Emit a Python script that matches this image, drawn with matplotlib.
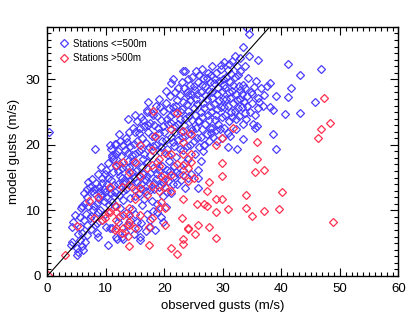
import numpy as np
import matplotlib
matplotlib.use("Agg")
import matplotlib.pyplot as plt
from matplotlib.ticker import MultipleLocator

plt.rcParams['font.family'] = ['Liberation Sans', 'DejaVu Sans']

# observed vs model gusts (m/s)
blue_pts = [
    # low end
    (4.0, 4.7), (4.2, 5.2), (5.0, 4.2), (5.3, 3.7), (5.1, 3.2), (5.9, 4.5), (5.5, 5.5), (6.1, 4.0), (6.4, 5.1),
    (4.2, 7.5), (4.4, 8.3), (4.7, 9.3), (5.5, 7.5), (5.6, 9.0), (6.7, 7.8), (6.0, 6.5), (5.8, 10.4), (6.4, 11.1),
    (7.0, 10.6), (5.9, 10.6), (7.9, 10.6), (8.4, 11.1), (8.7, 9.8), (9.3, 8.5), (8.1, 7.8), (8.4, 6.5), (8.7, 6.0),
    (7.5, 9.2), (9.0, 10.0), (9.6, 11.5), (10.1, 7.5), (10.4, 4.7), (11.0, 7.3), (11.9, 5.7), (12.7, 6.0),
    (13.3, 6.7), (13.6, 7.8), (14.1, 8.5), (15.3, 8.3), (15.5, 7.3), (15.8, 6.0), (15.8, 5.5), (17.5, 7.5),
    (18.4, 7.0), (17.5, 8.5), (10.1, 12.1), (11.0, 11.3), (11.6, 10.6), (13.0, 11.6), (10.7, 7.3), (11.8, 6.0),
    (13.0, 5.7), (12.2, 9.0), (14.5, 10.2), (15.0, 9.5), (16.2, 10.8), (17.0, 9.5), (18.0, 9.9), (19.5, 9.0),
    (19.8, 8.2), (18.8, 11.0), (20.3, 10.5), (16.6, 11.7), (14.2, 11.9), (12.0, 8.2), (9.8, 9.5), (8.5, 8.0),
    (7.3, 8.8), (6.6, 9.5), (6.8, 12.0),
    (5.2, 6.4), (6.8, 6.2), (7.4, 7.2), (6.2, 8.6), (7.8, 10.0), (8.8, 11.8), (10.6, 10.8), (12.4, 10.4),
    (13.4, 9.6), (11.4, 12.2), (9.8, 12.8), (16.0, 8.0), (16.8, 6.8), (14.8, 6.4), (18.8, 9.8),
    # 12-17
    (7.0, 14.4), (7.2, 13.6), (8.1, 19.4), (7.7, 14.8), (8.3, 14.2), (8.0, 12.6), (9.0, 13.0), (9.4, 14.2),
    (9.8, 15.6), (10.0, 16.2), (9.2, 12.4), (10.5, 13.4), (10.9, 14.6), (11.3, 15.8), (11.6, 12.8), (12.0, 14.0),
    (12.4, 15.2), (12.7, 16.4), (12.2, 17.1), (13.0, 13.0), (13.3, 14.5), (13.7, 15.4), (14.0, 16.6), (14.5, 13.6),
    (14.8, 15.0), (15.2, 16.0), (15.6, 12.6), (16.0, 14.0), (16.4, 15.5), (16.8, 12.9), (17.3, 14.2), (17.6, 15.7),
    (18.2, 13.3), (18.6, 14.8), (19.0, 16.2), (19.5, 13.8), (20.0, 15.4), (20.6, 14.5), (21.0, 16.0), (21.5, 14.0),
    (22.1, 14.0), (21.1, 12.6), (22.5, 15.6), (23.2, 16.2), (24.0, 15.0), (25.7, 16.2), (25.7, 14.9), (25.7, 13.4),
    (19.8, 12.2), (17.8, 11.5), (11.8, 16.8), (10.4, 15.0), (8.6, 15.6), (9.1, 16.6), (10.3, 17.2), (11.0, 18.2),
    (8.8, 13.6), (9.6, 13.2), (10.2, 14.0), (10.8, 12.6), (11.4, 13.8), (12.2, 12.4), (12.9, 14.2), (13.5, 13.2),
    (14.2, 14.6), (14.9, 12.2), (15.4, 14.4), (16.1, 13.2), (16.8, 14.6), (17.5, 13.1), (18.3, 14.2), (19.0, 13.5),
    (19.8, 14.4), (20.5, 12.8), (21.7, 15.2), (22.8, 14.6), (23.5, 13.4), (24.6, 15.6), (12.0, 16.0), (12.8, 15.0),
    (13.4, 16.6), (14.4, 15.8), (15.6, 15.4), (16.2, 16.6), (17.0, 15.2), (18.0, 16.4), (18.8, 15.6), (19.6, 16.8),
    (20.4, 16.2), (21.6, 16.8), (22.0, 15.8), (8.2, 13.2), (9.4, 15.0), (7.6, 13.0), (6.2, 12.6), (6.8, 13.2),
    # 17-22
    (10.8, 19.3), (11.5, 20.2), (12.0, 19.0), (12.6, 18.3), (13.0, 20.0), (13.5, 21.0), (13.8, 18.8), (14.2, 19.8),
    (14.6, 17.6), (15.0, 18.6), (15.3, 20.6), (15.7, 21.8), (16.0, 19.4), (16.4, 17.8), (16.8, 20.3), (17.2, 22.0),
    (17.5, 18.5), (18.0, 19.8), (18.4, 21.2), (18.8, 17.4), (19.2, 18.9), (19.6, 20.6), (20.0, 22.0), (20.4, 19.3),
    (20.8, 17.6), (21.2, 21.2), (21.6, 19.8), (22.0, 18.2), (22.4, 20.8), (22.8, 22.0), (23.2, 19.2), (23.6, 21.3),
    (24.0, 17.8), (24.4, 20.0), (24.8, 22.2), (25.2, 18.6), (25.6, 21.0), (26.0, 19.6), (26.4, 22.4), (26.8, 20.0),
    (27.2, 21.6), (27.8, 22.6), (28.3, 21.2), (29.0, 20.6), (29.5, 22.4), (30.9, 21.8), (32.3, 22.4), (33.5, 20.9),
    (32.4, 19.4), (26.2, 17.6), (23.6, 17.2), (12.3, 21.6), (11.2, 17.8), (10.7, 20.0), (11.8, 20.1), (11.0, 18.5),
    (11.8, 18.6), (12.4, 20.6), (13.2, 19.2), (13.8, 17.6), (14.4, 18.4), (14.8, 20.2), (15.6, 19.0), (16.2, 21.0),
    (16.6, 18.6), (17.4, 19.6), (17.8, 21.4), (18.6, 20.0), (19.0, 21.8), (19.4, 19.6), (20.2, 20.8), (20.6, 18.4),
    (21.4, 20.4), (21.8, 22.0), (22.6, 19.4), (23.0, 21.2), (23.8, 19.8), (24.2, 21.8), (25.0, 20.6), (25.4, 22.6),
    (26.2, 21.2), (26.6, 19.0), (27.6, 20.6), (28.0, 21.8), (28.8, 22.2), (30.2, 22.6), (31.2, 21.4), (15.2, 17.2),
    (13.6, 20.4), (17.0, 17.4),
    # 22-27
    (14.6, 22.6), (15.4, 23.6), (16.0, 24.2), (16.6, 22.8), (17.0, 25.0), (17.6, 23.4), (18.0, 24.6), (18.5, 26.0),
    (18.9, 22.6), (19.4, 23.8), (19.8, 25.2), (20.2, 26.4), (20.6, 23.2), (21.0, 24.4), (21.4, 25.8), (21.8, 22.8),
    (22.2, 26.8), (22.6, 24.0), (23.0, 25.4), (23.4, 23.0), (23.8, 26.2), (24.2, 24.4), (24.6, 22.6), (25.0, 25.6),
    (25.4, 27.0), (25.8, 23.6), (26.2, 25.0), (26.6, 26.4), (27.0, 23.2), (27.4, 24.6), (27.8, 26.0), (28.2, 27.2),
    (28.6, 23.8), (29.0, 25.4), (29.4, 26.8), (29.8, 24.2), (30.2, 25.8), (30.6, 27.0), (31.0, 23.6), (31.4, 25.0),
    (31.8, 26.4), (32.2, 24.0), (32.6, 25.6), (33.0, 27.0), (33.4, 23.2), (33.8, 24.8), (34.2, 26.0), (35.5, 24.6),
    (35.5, 22.5), (36.0, 25.6), (24.0, 27.6), (21.0, 27.4), (19.0, 27.0), (17.2, 26.6), (13.8, 24.0), (14.0, 22.0),
    (15.0, 24.5), (17.0, 25.3),
    (15.0, 22.0), (15.8, 22.6), (16.4, 23.8), (17.2, 23.0), (17.8, 24.8), (18.2, 23.0), (18.8, 24.4), (19.2, 25.8),
    (19.8, 22.8), (20.4, 24.0), (20.8, 25.6), (21.2, 23.4), (21.6, 24.8), (22.0, 26.0), (22.4, 23.2), (22.8, 25.0),
    (23.2, 26.6), (23.6, 24.0), (24.0, 25.2), (24.4, 26.8), (24.8, 23.8), (25.2, 24.6), (25.6, 26.2), (26.0, 23.6),
    (26.4, 24.2), (26.8, 25.6), (27.2, 27.0), (27.6, 23.8), (28.0, 25.0), (28.4, 26.2), (28.8, 24.6), (29.2, 23.2),
    (29.6, 25.8), (30.0, 27.0), (30.4, 24.6), (30.8, 26.0), (31.2, 27.2), (31.6, 24.2), (32.0, 25.2), (32.4, 26.8),
    (32.8, 24.4), (33.2, 25.8), (33.6, 26.6), (34.0, 24.0), (34.6, 25.0), (35.0, 26.4), (35.2, 23.2), (28.2, 22.6),
    # 27-33
    (20.2, 28.2), (21.1, 29.5), (21.5, 30.0), (23.2, 31.2), (22.4, 28.6), (23.0, 29.6), (23.8, 28.0), (24.4, 29.2),
    (24.8, 30.4), (25.2, 28.4), (25.8, 29.6), (26.2, 28.0), (26.6, 30.2), (27.0, 29.0), (27.6, 28.2), (28.0, 30.6),
    (28.4, 29.4), (28.8, 31.0), (29.2, 28.6), (29.6, 32.2), (30.0, 30.0), (30.4, 28.6), (30.8, 31.4), (31.2, 29.6),
    (31.6, 28.2), (32.0, 30.4), (32.4, 32.0), (32.8, 29.0), (33.2, 27.8), (33.5, 29.1), (34.3, 30.2), (35.6, 29.7),
    (36.5, 28.7), (37.0, 27.6), (36.0, 27.1), (37.5, 29.0), (38.0, 29.5), (34.8, 28.0), (33.0, 31.2), (31.0, 32.4),
    (29.6, 31.6), (27.4, 31.0), (25.4, 31.2), (23.5, 31.2),
    (21.8, 28.0), (22.6, 27.6), (23.4, 28.6), (24.0, 30.0), (24.6, 27.8), (25.0, 29.0), (25.6, 27.8), (26.0, 30.6),
    (26.4, 29.2), (27.0, 27.6), (27.2, 30.2), (27.8, 29.6), (28.2, 28.0), (28.6, 30.0), (29.0, 27.8), (29.4, 29.8),
    (29.8, 28.2), (30.2, 29.2), (30.6, 30.4), (31.0, 28.0), (31.4, 30.8), (31.8, 29.2), (32.2, 27.8), (32.6, 30.6),
    (33.0, 28.4), (33.8, 28.6), (34.2, 27.4), (35.0, 27.8), (35.4, 28.8), (36.2, 26.6), (36.8, 26.0), (33.8, 32.0),
    (30.2, 32.6), (28.2, 32.0), (26.4, 31.6),
    # outliers
    (34.1, 37.9), (34.5, 36.9), (33.5, 34.9), (34.5, 33.6), (36.0, 33.0), (41.1, 32.4), (46.8, 31.5), (43.2, 30.7),
    (41.6, 28.6), (39.0, 27.4), (41.1, 27.3), (45.8, 26.5), (43.2, 24.8), (40.6, 24.7), (38.6, 25.3), (38.0, 25.8),
    (38.6, 21.6), (39.0, 19.4), (35.9, 22.8), (33.0, 33.2), (32.0, 33.6), (31.6, 32.8), (0.2, 22.0), (26.8, 20.0),
    (30.8, 19.6), (29.8, 21.0),
]

red_pts = [
    (47.2, 27.1), (48.3, 23.3), (46.8, 22.4), (46.3, 21.1), (48.8, 8.2), (40.1, 12.8), (39.6, 10.2), (37.0, 9.95),
    (35.0, 9.1), (33.9, 10.4), (33.9, 12.4), (37.0, 16.2), (35.5, 15.8), (35.9, 17.9), (35.9, 20.5), (31.8, 22.5),
    (29.8, 21.1), (28.8, 20.0), (29.8, 17.3), (29.8, 15.2), (27.7, 14.4), (27.3, 13.0), (28.8, 11.8), (29.8, 11.8),
    (26.8, 11.0), (27.3, 10.7), (25.6, 11.0), (30.9, 10.2), (28.8, 9.8), (27.7, 7.5), (25.7, 7.8), (25.2, 6.4),
    (24.1, 7.2), (23.0, 8.8), (23.1, 11.8), (28.8, 5.8), (23.1, 5.7), (23.1, 4.9), (22.1, 3.4), (21.1, 4.3),
    (17.4, 4.7), (13.9, 4.5), (13.8, 6.1), (13.9, 7.8), (12.8, 6.5), (3.0, 3.2), (0.1, 0.1), (7.1, 11.5),
    (9.3, 8.6), (9.8, 8.8), (7.9, 8.9), (5.1, 7.6), (10.4, 9.8), (11.6, 7.0), (20.1, 7.8), (24.1, 7.3),
    # inside the cloud
    (18.0, 25.1), (22.1, 24.8), (21.1, 22.4), (23.1, 22.1), (24.6, 21.6), (23.1, 20.5), (18.4, 21.4), (15.9, 20.0),
    (17.9, 19.2), (20.1, 18.8), (21.1, 18.6), (19.0, 17.9), (23.1, 18.6), (24.6, 18.6), (23.1, 16.9), (22.1, 17.0),
    (24.6, 17.4), (24.1, 16.4), (23.1, 15.4), (24.1, 14.5), (25.1, 14.9), (21.1, 15.4), (20.1, 14.8), (19.5, 15.3),
    (19.0, 16.7), (17.9, 16.9), (17.0, 16.4), (15.9, 15.3), (14.9, 17.4), (13.9, 15.9), (12.9, 17.4), (11.8, 16.9),
    (12.7, 13.6), (13.9, 13.9), (14.9, 13.1), (15.9, 13.4), (17.0, 12.3), (17.9, 13.7), (19.0, 12.9), (20.1, 13.6),
    (21.1, 13.0), (19.5, 11.3), (19.0, 10.3), (20.1, 10.3), (17.9, 8.8), (17.4, 7.5), (15.9, 9.3), (14.9, 11.8),
    (13.9, 10.4), (13.9, 9.3), (12.9, 9.3), (11.8, 9.8), (11.8, 10.6), (10.7, 9.8), (11.8, 8.5), (12.9, 7.3),
    (11.8, 7.3), (14.9, 7.3), (13.9, 8.3), (8.6, 12.1), (10.7, 13.6),
]

blue = np.array(blue_pts)
red = np.array(red_pts)

fig = plt.figure(figsize=(4.12, 3.32), dpi=100)
ax = fig.add_axes([0.115, 0.169, 0.852, 0.750])

ax.plot(blue[:, 0], blue[:, 1], 'D', ms=4.3, mfc='none', mec='#4a3cff', mew=0.9,
        label='Stations <=500m', linestyle='none')
ax.plot(red[:, 0], red[:, 1], 'D', ms=4.3, mfc='none', mec='#ff3050', mew=0.9,
        label='Stations >500m', linestyle='none')
ax.plot([0, 38], [0, 38], color='black', lw=0.8)

ax.set_xlim(0, 60)
ax.set_ylim(0, 38)
ax.xaxis.set_major_locator(MultipleLocator(10))
ax.xaxis.set_minor_locator(MultipleLocator(1))
ax.yaxis.set_major_locator(MultipleLocator(10))
ax.yaxis.set_minor_locator(MultipleLocator(1))
ax.tick_params(which='both', direction='in', top=True, right=True, labelsize=9.5, width=0.8)
ax.tick_params(which='major', length=6, pad=5)
ax.tick_params(which='minor', length=3)
for s in ax.spines.values():
    s.set_linewidth(1.0)

ax.set_xlabel('observed gusts (m/s)', fontsize=9.5)
ax.set_ylabel('model gusts (m/s)', fontsize=9.5)

ax.legend(loc='upper left', frameon=False, fontsize=7, handletextpad=0.4,
          handlelength=1.0, borderaxespad=0.8, labelspacing=0.45)

fig.savefig('out.png', dpi=100)
